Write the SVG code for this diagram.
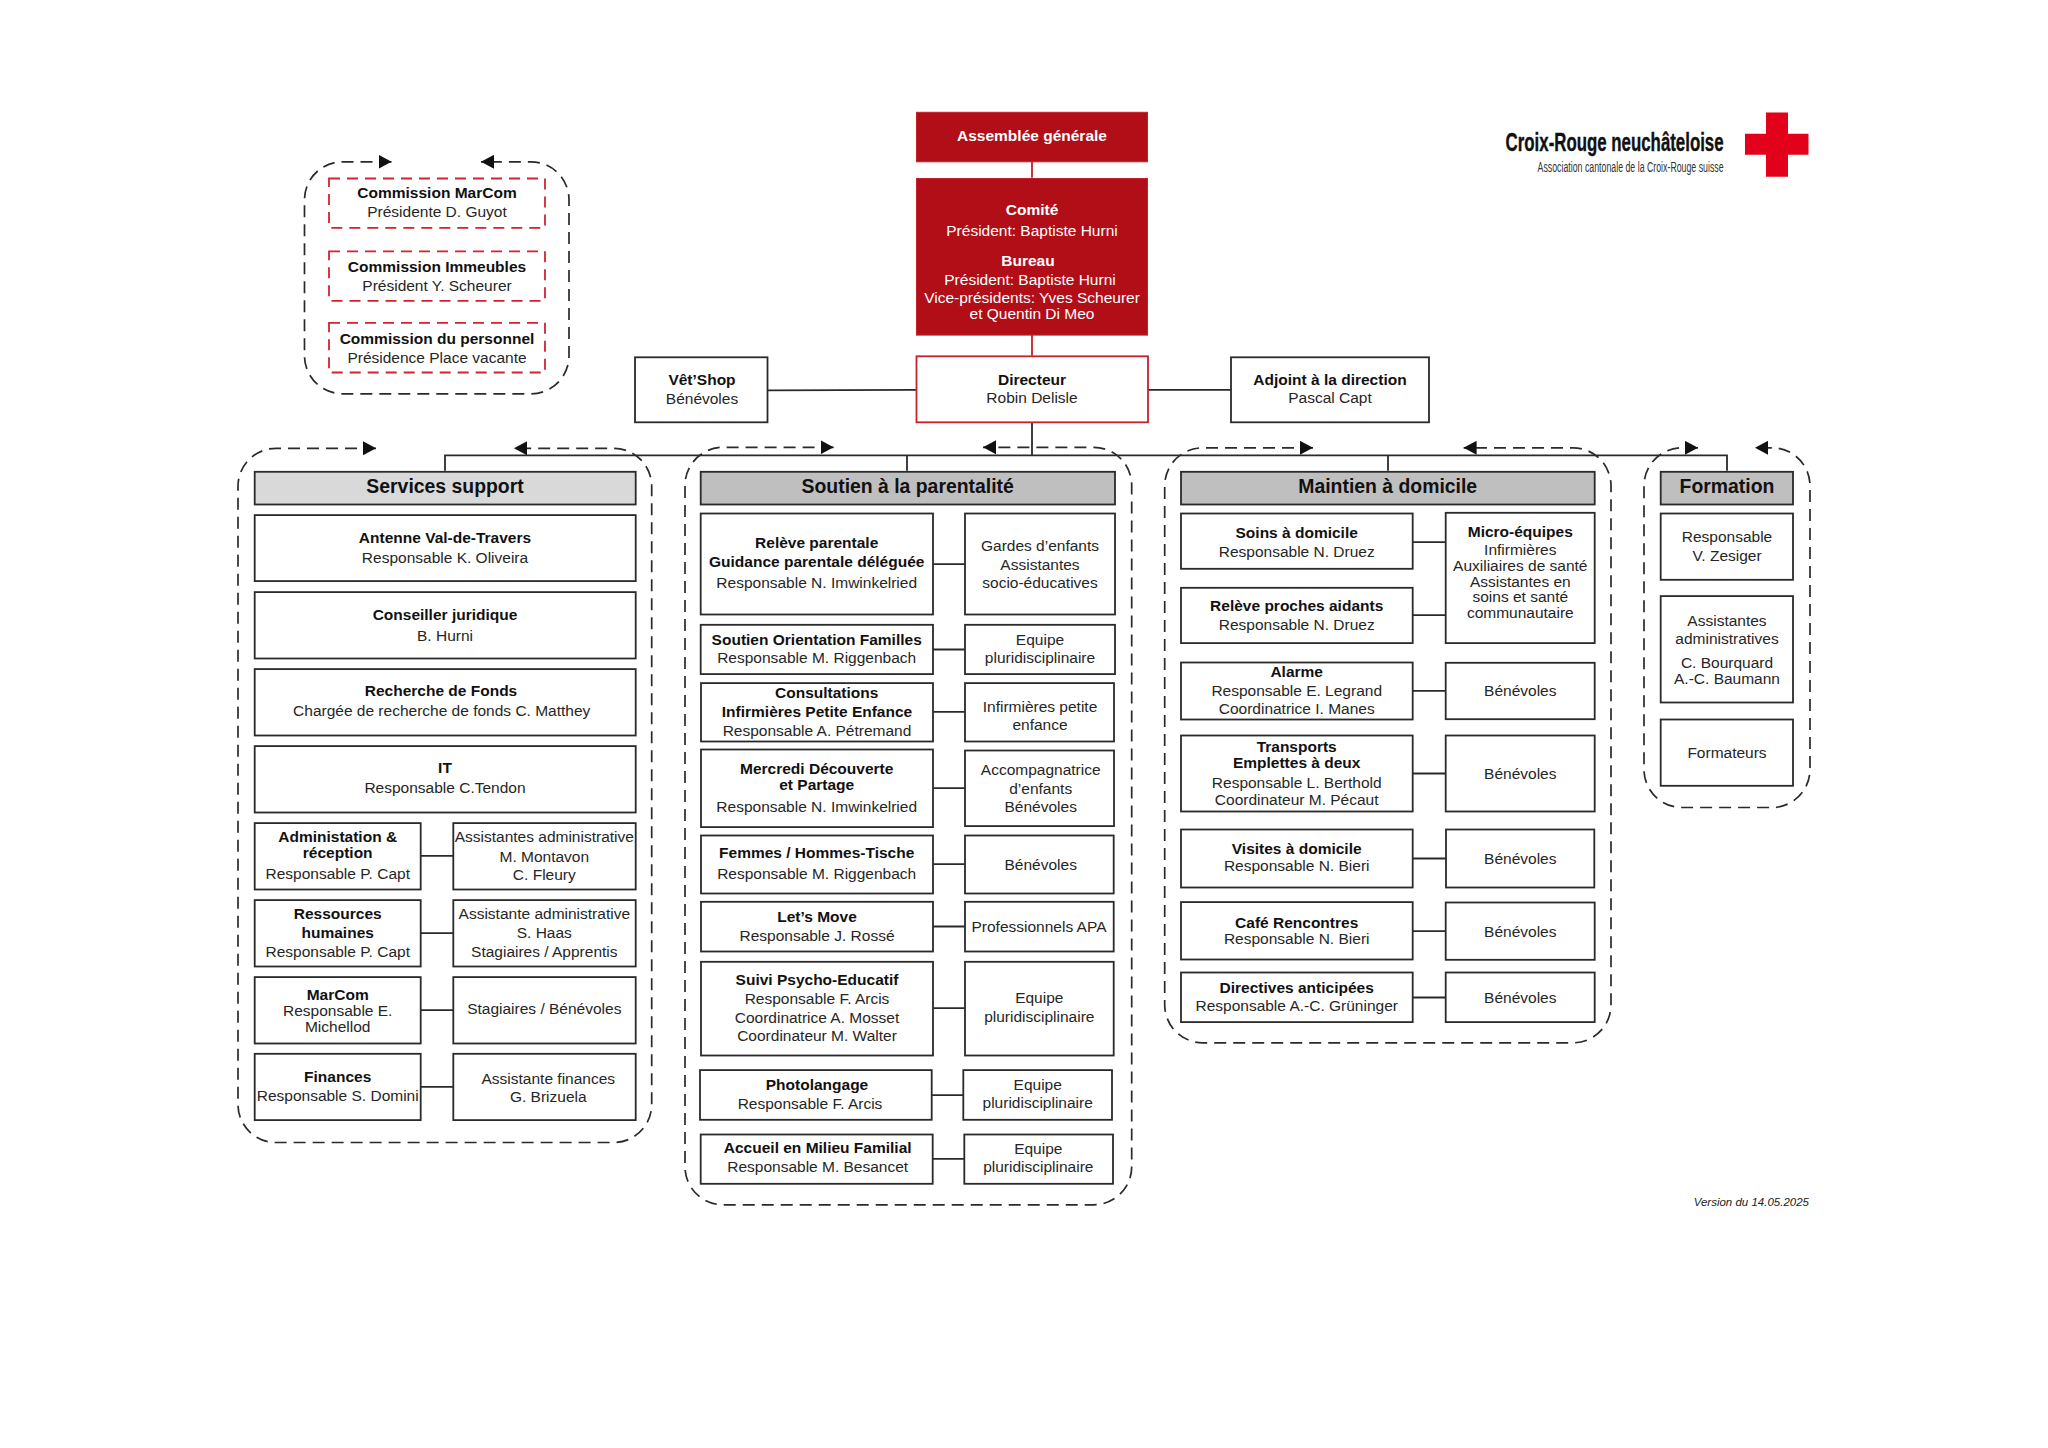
<svg xmlns="http://www.w3.org/2000/svg" width="2048" height="1448" viewBox="0 0 2048 1448">
<style>
text{font-family:"Liberation Sans",Arial,sans-serif;font-size:15.5px;fill:#262626;text-anchor:middle}
.b{font-weight:bold;fill:#111}
.h{font-weight:bold;font-size:19.4px;fill:#111}
.w{fill:#fff}
.box{fill:#fff;stroke:#2a2a2a;stroke-width:1.8}
.s1{fill:#d9d9d9;stroke:#2a2a2a;stroke-width:1.8}
.s2{fill:#bfbfbf;stroke:#2a2a2a;stroke-width:1.8}
.red{fill:#b20e18;stroke:#c4222b;stroke-width:1}
.redo{fill:#fff;stroke:#c8202c;stroke-width:1.8}
.redd{fill:#fff;stroke:#d2232f;stroke-width:1.8;stroke-dasharray:11 7}
.l{fill:none;stroke:#2a2a2a;stroke-width:1.8}
.lr{fill:none;stroke:#c4222b;stroke-width:1.8}
.d{fill:none;stroke:#2a2a2a;stroke-width:1.7;stroke-dasharray:12 7;marker-start:url(#ah);marker-end:url(#ah)}
</style>
<defs>
<marker id="ah" markerUnits="userSpaceOnUse" markerWidth="13" markerHeight="14" refX="13" refY="7" orient="auto-start-reverse" viewBox="0 0 13 14"><path d="M0 0L13 7L0 14Z" fill="#111"/></marker>
</defs>
<rect width="2048" height="1448" fill="#fff"/>
<g id="diagramme" transform="translate(0 0.8)">
<g id="groupes">
<path id="cadre-commissions" class="d" d="M391.500 161H342A38 38 0 0 0 304.500 199V355A38 38 0 0 0 342 393H531A38 38 0 0 0 569 355V199A38 38 0 0 0 531 161H481"/>
<path id="cadre-services" class="d" d="M376 447.500H276A38 38 0 0 0 238 485.500V1103.700A38 38 0 0 0 276 1141.700H613.700A38 38 0 0 0 651.700 1103.700V485.500A38 38 0 0 0 613.700 447.500H514"/>
<path id="cadre-soutien" class="d" d="M833.600 446.500H723A38 38 0 0 0 685 484.500V1166A38 38 0 0 0 723 1204H1093.700A38 38 0 0 0 1131.700 1166V484.500A38 38 0 0 0 1093.700 446.500H983"/>
<path id="cadre-maintien" class="d" d="M1313 447H1202.700A38 38 0 0 0 1164.700 485V1004A38 38 0 0 0 1202.700 1042H1573A38 38 0 0 0 1611 1004V485A38 38 0 0 0 1573 447H1463.600"/>
<path id="cadre-formation" class="d" d="M1698 447H1682A38 38 0 0 0 1644 485V768.700A38 38 0 0 0 1682 806.700H1772A38 38 0 0 0 1810 768.700V485A38 38 0 0 0 1772 447H1755"/>
</g>

<g id="connecteurs">
<path class="lr" d="M1032 161V177M1032 334V355"/>
<path class="l" d="M767.500 389.500L916 389M1148 389H1231M1032 422V454.500M445 470V454.500H1727V470M907 454.500V470M1388 454.500V470"/>
<path class="l" d="M420.700 855H453.300M420.700 932.300H453.300M420.700 1009.300H453.300M420.700 1086H453.300"/>
<path class="l" d="M933 563.300H965M933 648.700H965M933 711H965M933 787.300H965M933 863.300H965M933 925.700H965M933 1007.300H965M931.700 1094.300H963.300M932.700 1158H964.300"/>
<path class="l" d="M1412.700 541.300H1445.700M1412.700 614.300H1445.700M1412.700 690H1445.700M1412.700 772.700H1445.700M1412.700 857.700H1446M1412.700 930.300H1445.700M1412.700 996.700H1445.700"/>
</g>

<g id="assemblee"><rect class="red" x="916.500" y="111.500" width="231" height="49.500"/><text class="b w" x="1032" y="140.700" style="fill:#fff">Assemblée générale</text></g>
<g id="comite"><rect class="red" x="916.500" y="177.700" width="231" height="156.600"/>
<text class="b" style="fill:#fff" x="1032" y="214.300">Comité</text><text class="w" x="1032" y="235">Président: Baptiste Hurni</text>
<text class="b" style="fill:#fff" x="1028" y="265">Bureau</text><text class="w" x="1030" y="284">Président: Baptiste Hurni</text>
<text class="w" x="1032" y="302.700">Vice-présidents: Yves Scheurer</text><text class="w" x="1032" y="318">et Quentin Di Meo</text></g>
<g id="directeur"><rect class="redo" x="916.500" y="355.500" width="231.500" height="66"/><text class="b" x="1032" y="384">Directeur</text><text x="1032" y="402.700">Robin Delisle</text></g>
<g id="vetshop"><rect class="box" x="635" y="356.500" width="132.500" height="65"/><text class="b" x="702" y="384.700">Vêt’Shop</text><text x="702" y="403">Bénévoles</text></g>
<g id="adjoint"><rect class="box" x="1231" y="356.500" width="198" height="65"/><text class="b" x="1330" y="384">Adjoint à la direction</text><text x="1330" y="402.700">Pascal Capt</text></g>

<g id="commission-marcom"><rect class="redd" x="329" y="177.700" width="216" height="49.300"/><text class="b" x="437" y="197">Commission MarCom</text><text x="437" y="216">Présidente D. Guyot</text></g>
<g id="commission-immeubles"><rect class="redd" x="329" y="250.500" width="216" height="49.500"/><text class="b" x="437" y="271.700">Commission Immeubles</text><text x="437" y="290.300">Président Y. Scheurer</text></g>
<g id="commission-personnel"><rect class="redd" x="329" y="322" width="216" height="49.700"/><text class="b" x="437" y="343.300">Commission du personnel</text><text x="437" y="362">Présidence Place vacante</text></g>

<g id="logo">
<path d="M1766 111.700H1788V133H1808.500V154H1788V176H1766V154H1745V133H1766Z" fill="#e2001a"/>
<text x="1723.600" y="150.700" style="text-anchor:end;font-weight:bold;font-size:26px;fill:#111" stroke="#111" stroke-width="0.4" textLength="218" lengthAdjust="spacingAndGlyphs">Croix-Rouge neuchâteloise</text>
<text x="1723.600" y="171" style="text-anchor:end;font-size:14px;fill:#333" textLength="186" lengthAdjust="spacingAndGlyphs">Association cantonale de la Croix-Rouge suisse</text>
</g>

<g id="services-support"><rect class="s1" x="254.700" y="471" width="381" height="32.700"/><text class="h" x="445" y="492.700">Services support</text></g>
<g id="antenne"><rect class="box" x="254.700" y="514.300" width="381" height="66"/><text class="b" x="445" y="542.700">Antenne Val-de-Travers</text><text x="445" y="562">Responsable K. Oliveira</text></g>
<g id="conseiller"><rect class="box" x="254.700" y="591.300" width="381" height="66.400"/><text class="b" x="445" y="619">Conseiller juridique</text><text x="445" y="640.700">B. Hurni</text></g>
<g id="recherche"><rect class="box" x="254.700" y="668.300" width="381" height="66.400"/><text class="b" x="441" y="695.700">Recherche de Fonds</text><text x="441.700" y="715">Chargée de recherche de fonds C. Matthey</text></g>
<g id="it"><rect class="box" x="254.700" y="745.300" width="381" height="66.400"/><text class="b" x="445" y="772.300">IT</text><text x="445" y="792.700">Responsable C.Tendon</text></g>
<g id="administration"><rect class="box" x="254.700" y="822.300" width="166" height="66.400"/><text class="b" x="337.700" y="841.700">Administation &amp;</text><text class="b" x="337.700" y="857.700">réception</text><text x="337.700" y="878.300">Responsable P. Capt</text></g>
<g id="assistantes-admin"><rect class="box" x="453.300" y="822.300" width="182.400" height="66.400"/><text x="544.300" y="841.700">Assistantes administrative</text><text x="544.300" y="861">M. Montavon</text><text x="544.300" y="879">C. Fleury</text></g>
<g id="rh"><rect class="box" x="254.700" y="899.300" width="166" height="66.400"/><text class="b" x="337.700" y="918.700">Ressources</text><text class="b" x="337.700" y="937.300">humaines</text><text x="337.700" y="956">Responsable P. Capt</text></g>
<g id="assistante-admin"><rect class="box" x="453.300" y="899.300" width="182.400" height="66.400"/><text x="544.300" y="918.700">Assistante administrative</text><text x="544.300" y="937.300">S. Haas</text><text x="544.300" y="956.700">Stagiaires / Apprentis</text></g>
<g id="marcom"><rect class="box" x="254.700" y="976.300" width="166" height="66.400"/><text class="b" x="337.700" y="999">MarCom</text><text x="337.700" y="1015.700">Responsable E.</text><text x="337.700" y="1031">Michellod</text></g>
<g id="stagiaires"><rect class="box" x="453.300" y="976.300" width="182.400" height="66.400"/><text x="544.300" y="1013.700">Stagiaires / Bénévoles</text></g>
<g id="finances"><rect class="box" x="254.700" y="1053" width="166" height="66.300"/><text class="b" x="337.700" y="1081.700">Finances</text><text x="337.700" y="1100.300">Responsable S. Domini</text></g>
<g id="assistante-finances"><rect class="box" x="453.300" y="1053" width="182.400" height="66.300"/><text x="548.300" y="1083.300">Assistante finances</text><text x="548.300" y="1101">G. Brizuela</text></g>

<g id="soutien"><rect class="s2" x="700.700" y="471" width="414.300" height="32.700"/><text class="h" x="907.700" y="492.700">Soutien à la parentalité</text></g>
<g id="releve"><rect class="box" x="700.700" y="512.700" width="232.300" height="101"/><text class="b" x="816.700" y="547.700">Relève parentale</text><text class="b" x="816.700" y="566.700">Guidance parentale déléguée</text><text x="816.700" y="587">Responsable N. Imwinkelried</text></g>
<g id="gardes"><rect class="box" x="965" y="512.700" width="150" height="101"/><text x="1040" y="550.300">Gardes d’enfants</text><text x="1040" y="569">Assistantes</text><text x="1040" y="587.300">socio-éducatives</text></g>
<g id="orientation"><rect class="box" x="700.700" y="624" width="232.300" height="49.300"/><text class="b" x="816.700" y="644">Soutien Orientation Familles</text><text x="816.700" y="662.700">Responsable M. Riggenbach</text></g>
<g id="equipe1"><rect class="box" x="965" y="624" width="150" height="49.300"/><text x="1040" y="644">Equipe</text><text x="1040" y="662.700">pluridisciplinaire</text></g>
<g id="consultations"><rect class="box" x="701" y="682.300" width="232" height="58.400"/><text class="b" x="826.700" y="697.700">Consultations</text><text class="b" x="817" y="716.300">Infirmières Petite Enfance</text><text x="817" y="735">Responsable A. Pétremand</text></g>
<g id="infirmieres"><rect class="box" x="965" y="682.300" width="149" height="58.400"/><text x="1040" y="711">Infirmières petite</text><text x="1040" y="729.700">enfance</text></g>
<g id="mercredi"><rect class="box" x="701" y="748.700" width="232" height="77.600"/><text class="b" x="816.700" y="773.700">Mercredi Découverte</text><text class="b" x="816.700" y="789.300">et Partage</text><text x="816.700" y="811">Responsable N. Imwinkelried</text></g>
<g id="accompagnatrice"><rect class="box" x="965" y="749.700" width="149" height="75.600"/><text x="1040.700" y="774.300">Accompagnatrice</text><text x="1040.700" y="793">d’enfants</text><text x="1040.700" y="811.700">Bénévoles</text></g>
<g id="femmes"><rect class="box" x="701" y="834.700" width="232" height="58"/><text class="b" x="816.700" y="857">Femmes / Hommes-Tische</text><text x="816.700" y="878.300">Responsable M. Riggenbach</text></g>
<g id="benevoles-s"><rect class="box" x="965" y="834.700" width="148.700" height="58"/><text x="1040.700" y="869">Bénévoles</text></g>
<g id="letsmove"><rect class="box" x="701" y="901" width="232" height="49.700"/><text class="b" x="817" y="921.300">Let’s Move</text><text x="817" y="940">Responsable J. Rossé</text></g>
<g id="apa"><rect class="box" x="965" y="901" width="148.700" height="49.700"/><text x="1039" y="931.300">Professionnels APA</text></g>
<g id="suivi"><rect class="box" x="701" y="961" width="232" height="93.700"/><text class="b" x="817" y="984.300">Suivi Psycho-Educatif</text><text x="817" y="1003">Responsable F. Arcis</text><text x="817" y="1022">Coordinatrice A. Mosset</text><text x="817" y="1040.700">Coordinateur M. Walter</text></g>
<g id="equipe2"><rect class="box" x="965" y="961" width="148.700" height="93.700"/><text x="1039.300" y="1002.700">Equipe</text><text x="1039.300" y="1021.300">pluridisciplinaire</text></g>
<g id="photolangage"><rect class="box" x="700" y="1069.300" width="231.700" height="49.700"/><text class="b" x="817" y="1089.700">Photolangage</text><text x="810" y="1108.300">Responsable F. Arcis</text></g>
<g id="equipe3"><rect class="box" x="963.300" y="1069.300" width="148.700" height="49.700"/><text x="1037.700" y="1089">Equipe</text><text x="1037.700" y="1107.700">pluridisciplinaire</text></g>
<g id="accueil"><rect class="box" x="700.700" y="1133.700" width="232" height="49.300"/><text class="b" x="817.700" y="1152.300">Accueil en Milieu Familial</text><text x="817.700" y="1171">Responsable M. Besancet</text></g>
<g id="equipe4"><rect class="box" x="964.300" y="1133.700" width="148.700" height="49.300"/><text x="1038.300" y="1153">Equipe</text><text x="1038.300" y="1171.700">pluridisciplinaire</text></g>

<g id="maintien"><rect class="s2" x="1181" y="471" width="413.700" height="32.700"/><text class="h" x="1387.700" y="492.700">Maintien à domicile</text></g>
<g id="soins"><rect class="box" x="1181" y="512.700" width="231.700" height="55.300"/><text class="b" x="1296.700" y="537.700">Soins à domicile</text><text x="1296.700" y="556.300">Responsable N. Druez</text></g>
<g id="proches"><rect class="box" x="1181" y="587" width="231.700" height="55.300"/><text class="b" x="1296.700" y="610.300">Relève proches aidants</text><text x="1296.700" y="629">Responsable N. Druez</text></g>
<g id="micro"><rect class="box" x="1445.700" y="512" width="149" height="130.300"/><text class="b" x="1520.300" y="536.700">Micro-équipes</text><text x="1520.300" y="554.700">Infirmières</text><text x="1520.300" y="570.300">Auxiliaires de santé</text><text x="1520.300" y="586">Assistantes en</text><text x="1520.300" y="601.300">soins et santé</text><text x="1520.300" y="617">communautaire</text></g>
<g id="alarme"><rect class="box" x="1181" y="661.700" width="231.700" height="57"/><text class="b" x="1296.700" y="676.300">Alarme</text><text x="1296.700" y="695">Responsable E. Legrand</text><text x="1296.700" y="713.700">Coordinatrice I. Manes</text></g>
<g id="benevoles-a"><rect class="box" x="1445.700" y="662" width="149" height="56.400"/><text x="1520.300" y="695.300">Bénévoles</text></g>
<g id="transports"><rect class="box" x="1181" y="734.700" width="231.700" height="76"/><text class="b" x="1296.700" y="751.300">Transports</text><text class="b" x="1296.700" y="767">Emplettes à deux</text><text x="1296.700" y="787">Responsable L. Berthold</text><text x="1296.700" y="804">Coordinateur M. Pécaut</text></g>
<g id="benevoles-t"><rect class="box" x="1445.700" y="734.700" width="149" height="76"/><text x="1520.300" y="778.300">Bénévoles</text></g>
<g id="visites"><rect class="box" x="1181" y="828.700" width="231.700" height="58"/><text class="b" x="1296.700" y="853.300">Visites à domicile</text><text x="1296.700" y="870.300">Responsable N. Bieri</text></g>
<g id="benevoles-v"><rect class="box" x="1446" y="828.700" width="148.300" height="58"/><text x="1520.300" y="863.300">Bénévoles</text></g>
<g id="cafe"><rect class="box" x="1181" y="901.300" width="231.700" height="57.400"/><text class="b" x="1296.700" y="927.300">Café Rencontres</text><text x="1296.700" y="943.700">Responsable N. Bieri</text></g>
<g id="benevoles-c"><rect class="box" x="1445.700" y="901.700" width="149" height="57.300"/><text x="1520.300" y="936">Bénévoles</text></g>
<g id="directives"><rect class="box" x="1181" y="971.700" width="231.700" height="49.600"/><text class="b" x="1296.700" y="992">Directives anticipées</text><text x="1296.700" y="1010.700">Responsable A.-C. Grüninger</text></g>
<g id="benevoles-d"><rect class="box" x="1445.700" y="971.700" width="149" height="49.600"/><text x="1520.300" y="1002">Bénévoles</text></g>

<g id="formation"><rect class="s2" x="1660.700" y="471" width="132.300" height="32.700"/><text class="h" x="1727" y="492.500">Formation</text></g>
<g id="zesiger"><rect class="box" x="1660.700" y="512.700" width="132.300" height="66.300"/><text x="1727" y="541.300">Responsable</text><text x="1727" y="560.300">V. Zesiger</text></g>
<g id="assistantes-f"><rect class="box" x="1660.700" y="595.300" width="132.300" height="106.400"/><text x="1727" y="625">Assistantes</text><text x="1727" y="643.700">administratives</text><text x="1727" y="667.300">C. Bourquard</text><text x="1727" y="683.700">A.-C. Baumann</text></g>
<g id="formateurs"><rect class="box" x="1660.700" y="718.700" width="132.300" height="66.300"/><text x="1727" y="757.300">Formateurs</text></g>

<text id="version" x="1809" y="1205" style="text-anchor:end;font-style:italic;font-size:11.5px;fill:#222">Version du 14.05.2025</text>
</g>
</svg>
